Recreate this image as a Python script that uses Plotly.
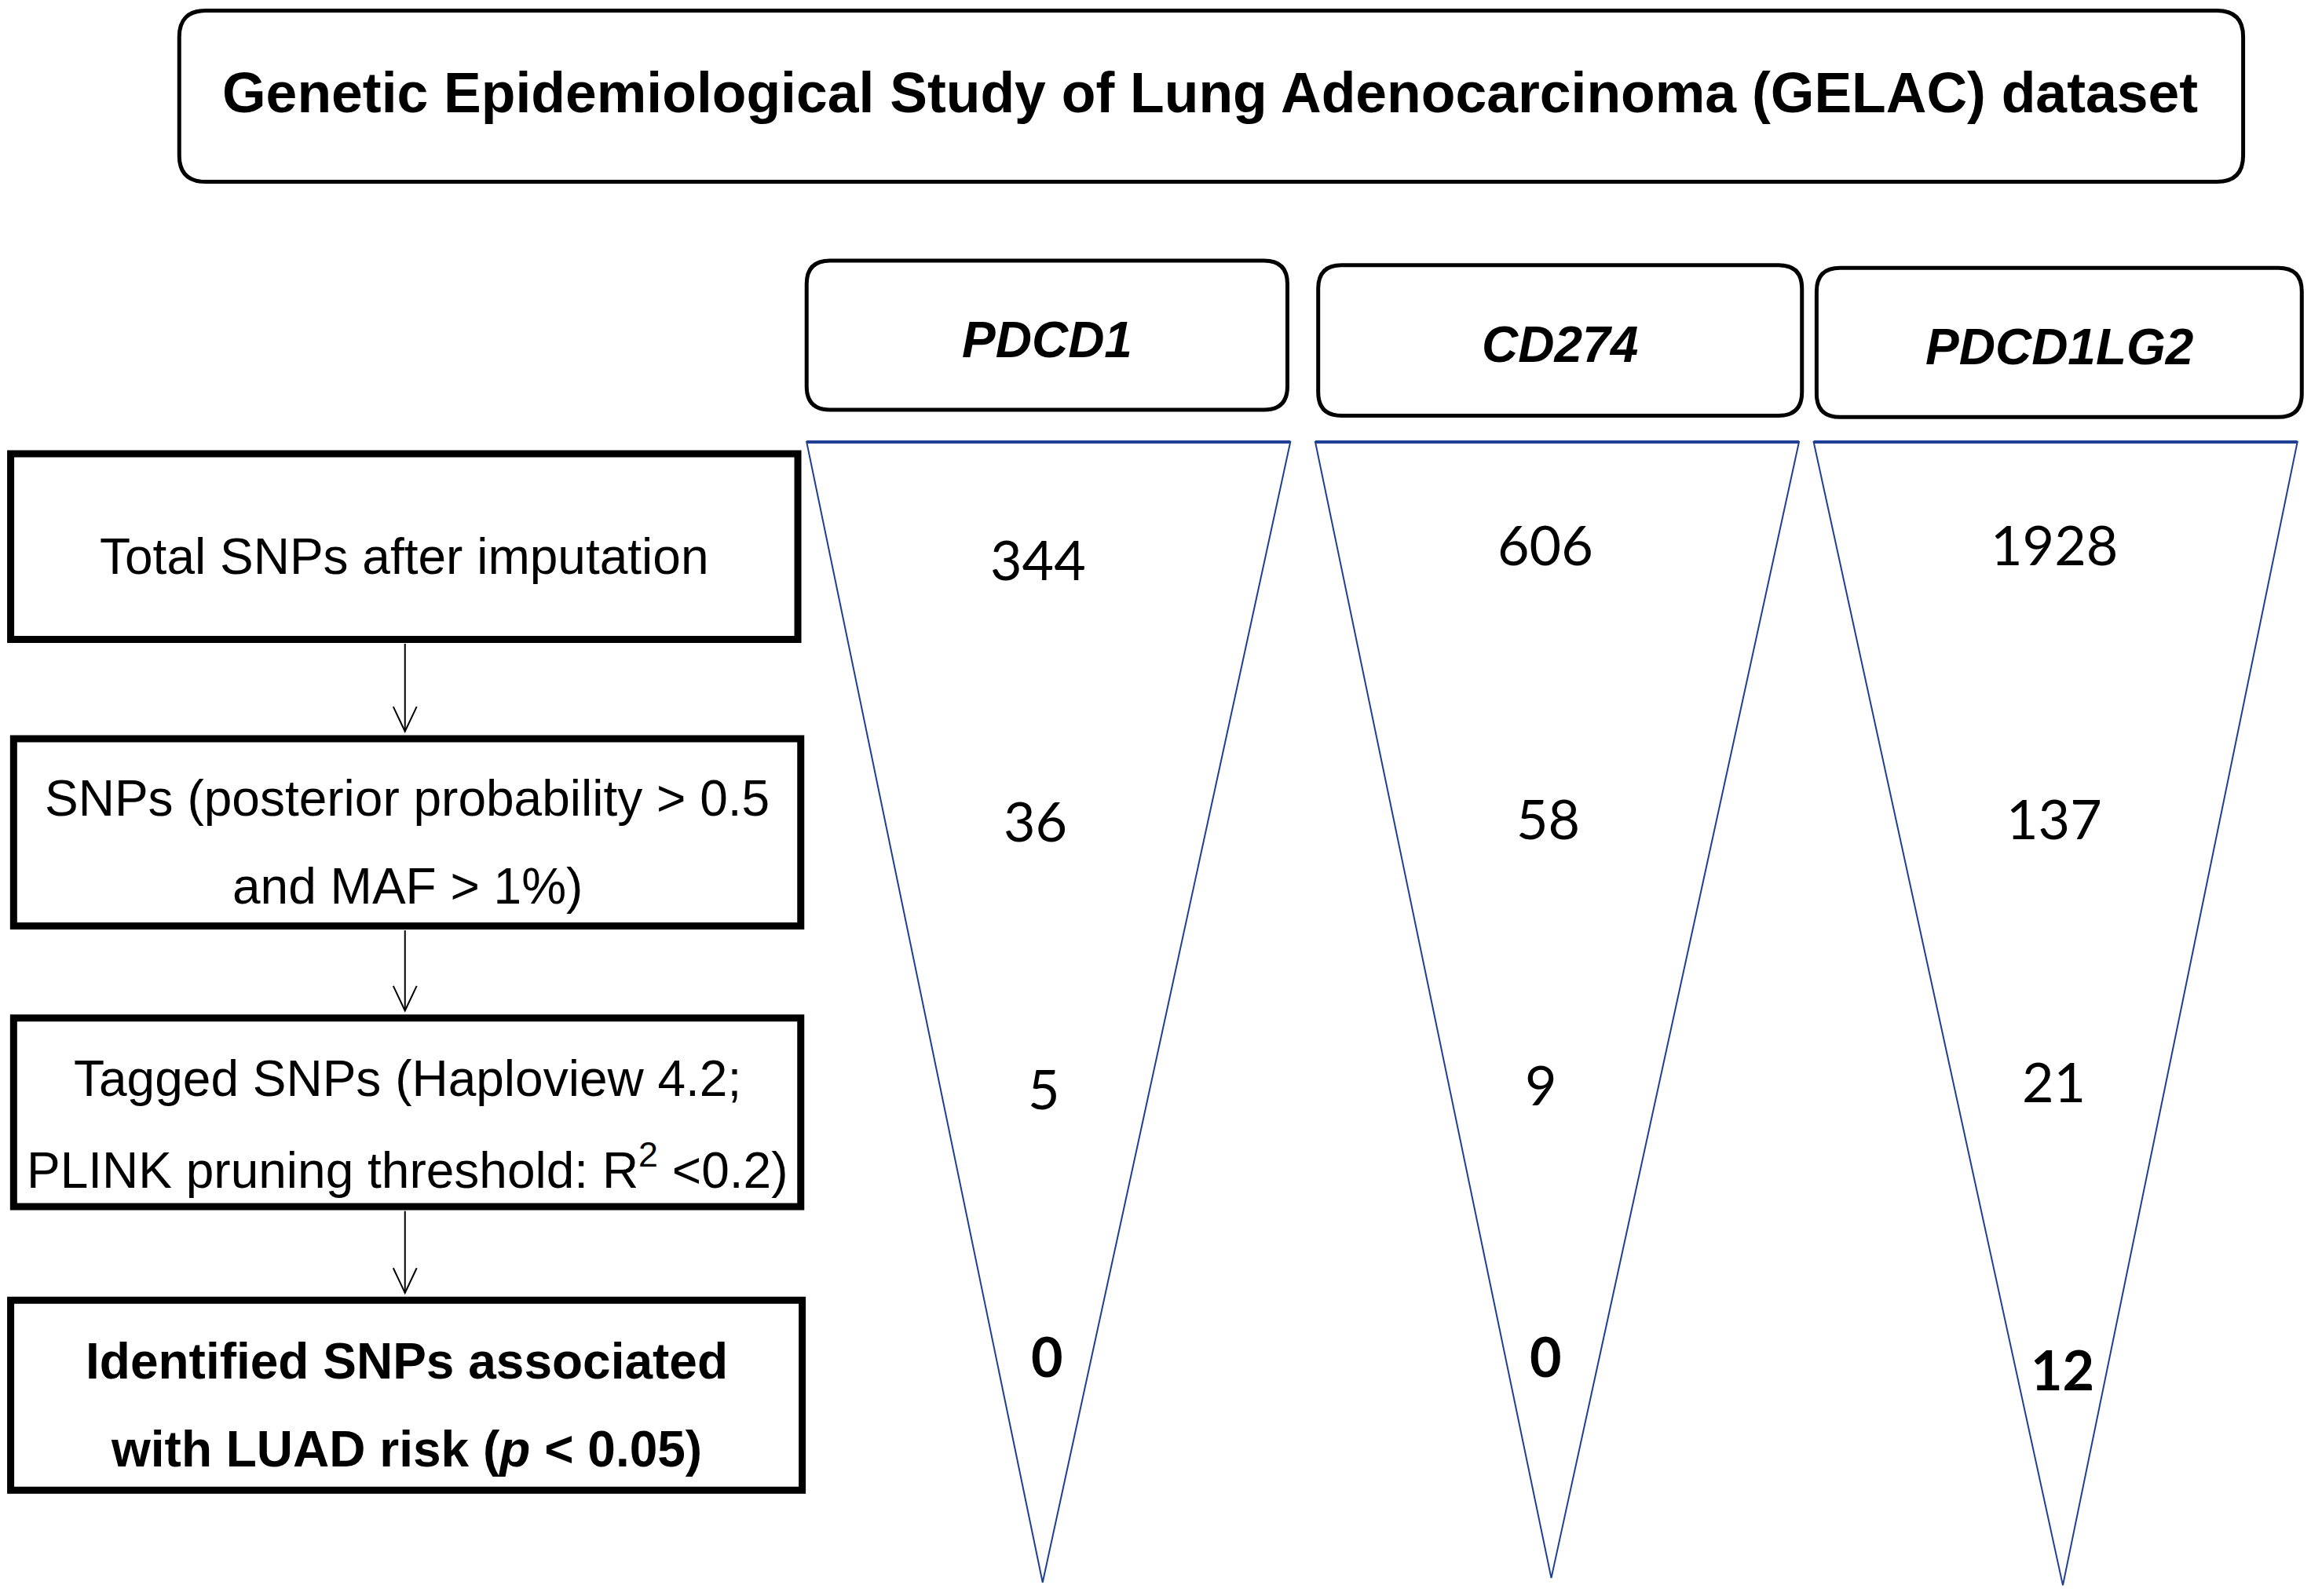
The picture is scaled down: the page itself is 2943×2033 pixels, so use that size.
import plotly.graph_objects as go

# ---- data -------------------------------------------------------------
title = "Genetic Epidemiological Study of Lung Adenocarcinoma (GELAC) dataset"
genes = ["PDCD1", "CD274", "PDCD1LG2"]
steps = [
    ["Total SNPs after imputation"],
    ["SNPs (posterior probability > 0.5", "and MAF > 1%)"],
    ["Tagged SNPs (Haploview 4.2;", "PLINK pruning threshold: R<sup>2</sup> <0.2)"],
    ["<b>Identified SNPs associated</b>", "<b>with LUAD risk (<i>p</i> < 0.05)</b>"],
]
snp_counts = {
    "PDCD1": [344, 36, 5, 0],
    "CD274": [606, 58, 9, 0],
    "PDCD1LG2": [1928, 137, 21, 12],
}

# ---- layout (canvas units, y downwards) ---------------------------------
W, H = 1568, 1083
PX_W, PX_H = 2927, 2017
BLUE = "#1f3f94"
FONT = "Arial"
NUM_FONT = "Lato"

gene_boxes = [(546, 874, 174, 276), (895, 1225, 177, 280), (1235, 1566, 179, 281)]
triangles = [(546, 876, 707, 1078), (893, 1223, 1054, 1075), (1233, 1563, 1403, 1080)]
tri_top = 298
# where each count sits inside its triangle
number_pos = {
    "PDCD1": [(704, 378), (702, 557), (708, 740), (710, 923)],
    "CD274": [(1050, 368), (1052, 555), (1047, 737), (1050, 923)],
    "PDCD1LG2": [(1397, 368), (1397, 555), (1397, 735), (1403, 932)],
}
step_boxes = [(3, 540, 306, 433), (5, 542, 501, 629), (5, 542, 692, 821), (3, 543, 885, 1015)]
line_gap = 60
arrow_x = 272


def rounded_rect(x0, x1, y0, y1, r):
    return (
        f"M {x0 + r} {y0} L {x1 - r} {y0} Q {x1} {y0} {x1} {y0 + r} "
        f"L {x1} {y1 - r} Q {x1} {y1} {x1 - r} {y1} "
        f"L {x0 + r} {y1} Q {x0} {y1} {x0} {y1 - r} "
        f"L {x0} {y0 + r} Q {x0} {y0} {x0 + r} {y0} Z"
    )


fig = go.Figure()
shapes = []
annotations = []

# title box
shapes.append(dict(type="path", path=rounded_rect(118, 1526, 3, 120, 18),
                   line=dict(color="black", width=5)))
annotations.append(dict(x=821, y=59, text=f"<b>{title}</b>",
                        font=dict(size=71.5, family=FONT, color="black")))

# gene headers + triangles + counts
for i, gene in enumerate(genes):
    x0, x1, y0, y1 = gene_boxes[i]
    shapes.append(dict(type="path", path=rounded_rect(x0, x1, y0, y1, 16),
                       line=dict(color="black", width=5)))
    annotations.append(dict(x=(x0 + x1) / 2, y=(y0 + y1) / 2 + 3, text=f"<b><i>{gene}</i></b>",
                            font=dict(size=64, family=FONT, color="black")))
    tl, tr, ax, ay = triangles[i]
    shapes.append(dict(type="path", path=f"M {tl} {tri_top} L {tr} {tri_top} L {ax} {ay} Z",
                       line=dict(color=BLUE, width=2)))
    shapes.append(dict(type="line", x0=tl, x1=tr, y0=tri_top, y1=tri_top,
                       line=dict(color=BLUE, width=4)))
    for j, v in enumerate(snp_counts[gene]):
        txt = f"<b>{v}</b>" if j == len(steps) - 1 else str(v)
        nx, ny = number_pos[gene][j]
        annotations.append(dict(x=nx, y=ny, text=txt,
                                font=dict(size=70, family=NUM_FONT, color="black")))

# left-hand step boxes with arrows
for j, lines in enumerate(steps):
    x0, x1, y0, y1 = step_boxes[j]
    shapes.append(dict(type="rect", x0=x0, x1=x1, y0=y0, y1=y1,
                       line=dict(color="black", width=9)))
    yc = (y0 + y1) / 2 + 7
    first = yc - line_gap * (len(lines) - 1) / 2
    for k, label in enumerate(lines):
        annotations.append(dict(x=(x0 + x1) / 2, y=first + k * line_gap, text=label,
                                font=dict(size=64, family=FONT, color="black")))
    if j < len(steps) - 1:
        ya, yb = y1 + 3, step_boxes[j + 1][2] - 5
        shapes.append(dict(type="line", x0=arrow_x, x1=arrow_x, y0=ya, y1=yb,
                           line=dict(color="black", width=2)))
        shapes.append(dict(type="path",
                           path=f"M {arrow_x - 8} {yb - 17} L {arrow_x} {yb} L {arrow_x + 8} {yb - 17}",
                           line=dict(color="black", width=2)))

for a in annotations:
    a.update(xref="x", yref="y", showarrow=False, xanchor="center", yanchor="middle")
for s in shapes:
    s.update(xref="x", yref="y", layer="above")

fig.update_layout(
    width=PX_W, height=PX_H,
    margin=dict(l=0, r=0, t=0, b=0),
    paper_bgcolor="white", plot_bgcolor="white",
    shapes=shapes, annotations=annotations,
    showlegend=False,
)
fig.update_xaxes(range=[0, W], visible=False, fixedrange=True)
fig.update_yaxes(range=[H, 0], visible=False, fixedrange=True)

fig.write_html("out.html")
